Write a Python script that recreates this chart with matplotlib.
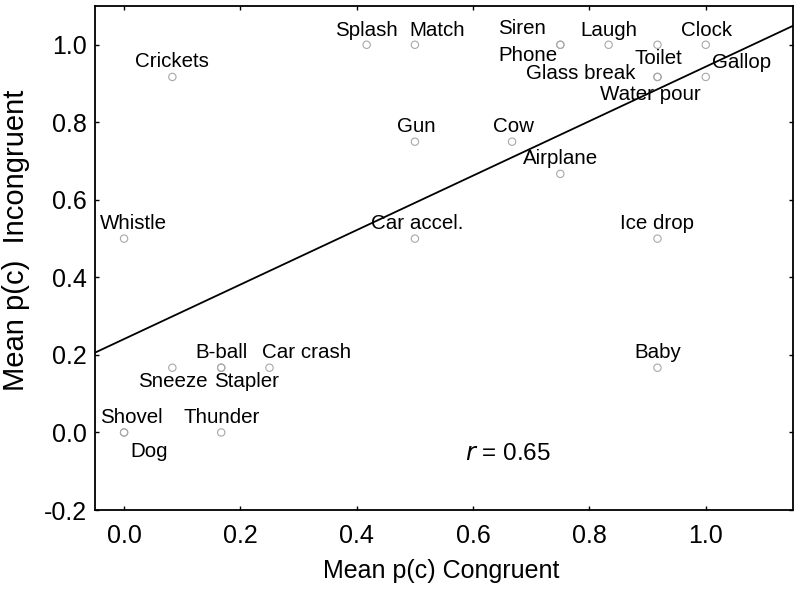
import numpy as np
import matplotlib
matplotlib.use("Agg")
import matplotlib.pyplot as plt

plt.rcParams['font.family'] = ['Liberation Sans', 'DejaVu Sans']

names = ["Crickets", "Whistle", "Splash", "Match", "Gun", "Cow", "Siren", "Phone",
         "Laugh", "Clock", "Toilet", "Glass break", "Water pour", "Gallop", "Airplane",
         "Car accel.", "Ice drop", "Baby", "B-ball", "Car crash", "Sneeze", "Stapler",
         "Shovel", "Thunder", "Dog"]
congruent = [0.083, 0.0, 0.417, 0.5, 0.5, 0.667, 0.75, 0.75,
             0.833, 1.0, 0.917, 0.917, 0.917, 1.0, 0.75,
             0.5, 0.917, 0.917, 0.167, 0.25, 0.083, 0.167,
             0.0, 0.167, 0.0]
incongruent = [0.917, 0.5, 1.0, 1.0, 0.75, 0.75, 1.0, 1.0,
               1.0, 1.0, 1.0, 0.917, 0.917, 0.917, 0.667,
               0.5, 0.5, 0.167, 0.167, 0.167, 0.167, 0.167,
               0.0, 0.0, 0.0]
fit_intercept = 0.241
fit_slope = 0.7025
r_value = 0.65
xticks = [0.0, 0.2, 0.4, 0.6, 0.8, 1.0]
yticks = [-0.2, 0.0, 0.2, 0.4, 0.6, 0.8, 1.0]

# label offsets in pixels (dx right, dy down) - layout only
label_offsets = [(0, -15), (9, -15.6), (0, -14.4), (22, -14.4), (1.5, -14.7), (1.7, -14.7),
                 (-38, -16), (-32.5, 10.7), (0, -14), (0.5, -14), (0.6, 13.4),
                 (-76.7, -3.3), (-7.2, 18), (35.8, -14.3), (0.5, -15), (2, -15),
                 (0, -15), (0, -15.5), (0, -15.4), (37, -15.4), (0.5, 13.3),
                 (25, 13.3), (6.8, -15), (0, -15), (25, 19.3)]

fig = plt.figure(figsize=(8, 5.91), dpi=100)
ax = fig.add_axes([95/800, 81/591, 698/800, 504/591])

xmin, xmax = -0.05, 1.15
ymin, ymax = -0.2, 1.1
ax.set_xlim(xmin, xmax)
ax.set_ylim(ymin, ymax)

ax.scatter(congruent, incongruent, s=28, facecolors='none', edgecolors='#a8a8a8',
           linewidths=0.8, zorder=3)
ax.plot([xmin, xmax], [fit_intercept + fit_slope*xmin, fit_intercept + fit_slope*xmax],
        color='black', lw=1.3, zorder=2)

for n, x, y, (dx, dy) in zip(names, congruent, incongruent, label_offsets):
    ax.annotate(n, (x, y), xytext=(dx, -dy), textcoords='offset pixels',
                ha='center', va='center', fontsize=14.8, color='black')

ax.text(0.66, -0.055, r'$\it{r}$' + f' = {r_value:.2f}', ha='center', va='center',
        fontsize=17.5)

ax.set_xticks(xticks)
ax.set_xticklabels([f'{t:.1f}' for t in xticks])
ax.set_yticks(yticks)
ax.set_yticklabels([f'{t:.1f}' for t in yticks])
ax.tick_params(direction='in', length=3, width=1, top=True, right=True,
               labelsize=18)
ax.tick_params(axis='x', pad=10)
ax.tick_params(axis='y', pad=6)
for s in ax.spines.values():
    s.set_linewidth(1.3)

ax.set_xlabel('Mean p(c) Congruent', fontsize=18)
ax.set_ylabel('Mean p(c)  Incongruent', fontsize=21)
ax.xaxis.set_label_coords(0.496, -0.097)
ax.yaxis.set_label_coords(-0.093, 0.535)

fig.savefig('out.png', dpi=100)
